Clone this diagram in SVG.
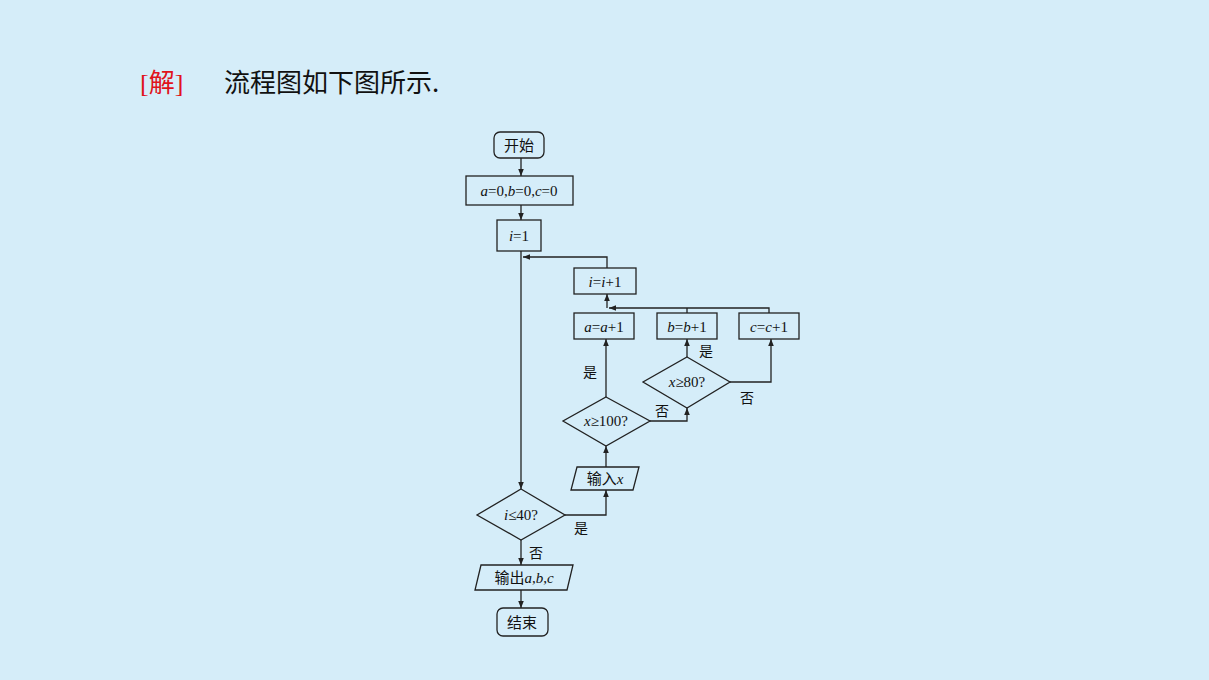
<svg xmlns="http://www.w3.org/2000/svg" width="1209" height="680" viewBox="0 0 1209 680">
<defs>
<marker id="ar" viewBox="0 0 10 10" refX="10" refY="5" markerWidth="7" markerHeight="7" orient="auto" markerUnits="userSpaceOnUse"><path d="M0,1 L10,5 L0,9 Z" fill="#222"/></marker>
<style>
.s{fill:none;stroke:#222;stroke-width:1.3}
.t{font-family:"Liberation Serif","Noto Sans CJK SC",serif;font-size:15px;fill:#111;text-anchor:middle}
.c{font-family:"Noto Sans CJK SC",serif;font-size:14px;fill:#111}
.e{stroke:#222;stroke-width:1.3;fill:none;marker-end:url(#ar)}
</style>
</defs>
<rect width="1209" height="680" fill="#d5edf9"/>
<text x="140" y="92" font-family="Liberation Serif,'Noto Sans CJK SC',serif" font-size="26" fill="#e0141c">[解]</text>
<text x="224" y="92" font-family="'Noto Sans CJK SC',serif" font-size="26" fill="#111">流程图如下图所示.</text>
<g id="start"><rect class="s" x="494" y="132" width="50" height="26" rx="6"/><text class="t" x="519" y="151">开始</text></g>
<g id="init"><rect class="s" x="466" y="176" width="107" height="29"/><text class="t" x="519" y="196"><tspan font-style="italic">a</tspan>=0,<tspan font-style="italic">b</tspan>=0,<tspan font-style="italic">c</tspan>=0</text></g>
<g id="i1"><rect class="s" x="497" y="220" width="44" height="31"/><text class="t" x="519" y="241"><tspan font-style="italic">i</tspan>=1</text></g>
<g id="inc"><rect class="s" x="574" y="268" width="62" height="26"/><text class="t" x="605" y="287"><tspan font-style="italic">i</tspan>=<tspan font-style="italic">i</tspan>+1</text></g>
<g id="aa"><rect class="s" x="574" y="313" width="60" height="26"/><text class="t" x="604" y="332"><tspan font-style="italic">a</tspan>=<tspan font-style="italic">a</tspan>+1</text></g>
<g id="bb"><rect class="s" x="657" y="313" width="60" height="26"/><text class="t" x="687" y="332"><tspan font-style="italic">b</tspan>=<tspan font-style="italic">b</tspan>+1</text></g>
<g id="cc"><rect class="s" x="739" y="313" width="60" height="26"/><text class="t" x="769" y="332"><tspan font-style="italic">c</tspan>=<tspan font-style="italic">c</tspan>+1</text></g>
<g id="d80"><polygon class="s" points="687,357 730,382 687,408 643,382"/><text class="t" x="687" y="387"><tspan font-style="italic">x</tspan>≥80?</text></g>
<g id="d100"><polygon class="s" points="606,397 650,421 606,446 563,421"/><text class="t" x="606" y="426"><tspan font-style="italic">x</tspan>≥100?</text></g>
<g id="inx"><polygon class="s" points="577,467 639,467 633,490 571,490"/><text class="t" x="605" y="484">输入<tspan font-style="italic">x</tspan></text></g>
<g id="d40"><polygon class="s" points="521,489 565,515 521,540 477,515"/><text class="t" x="521" y="520"><tspan font-style="italic">i</tspan>≤40?</text></g>
<g id="out"><polygon class="s" points="481,565 573,565 567,590 475,590"/><text class="t" x="524" y="583">输出<tspan font-style="italic">a</tspan>,<tspan font-style="italic">b</tspan>,<tspan font-style="italic">c</tspan></text></g>
<g id="end"><rect class="s" x="497" y="608" width="51" height="28" rx="6"/><text class="t" x="522" y="628">结束</text></g>
<g id="connectors">
<line class="e" x1="521" y1="158" x2="521" y2="176"/>
<line class="e" x1="521" y1="205" x2="521" y2="220"/>
<line class="e" x1="521" y1="251" x2="521" y2="489"/>
<polyline class="e" points="607,268 607,257 523,257"/>
<line class="e" x1="607" y1="308" x2="607" y2="294"/>
<polyline class="e" points="769,313 769,308 609,308"/>
<line class="s" x1="687" y1="313" x2="687" y2="308"/>
<line class="e" x1="606" y1="397" x2="606" y2="339"/>
<line class="e" x1="687" y1="357" x2="687" y2="339"/>
<polyline class="e" points="730,382 771,382 771,339"/>
<polyline class="e" points="650,421 687,421 687,408"/>
<line class="e" x1="606" y1="467" x2="606" y2="446"/>
<polyline class="e" points="565,515 606,515 606,490"/>
<line class="e" x1="521" y1="540" x2="521" y2="565"/>
<line class="e" x1="521" y1="590" x2="521" y2="608"/>
<text class="c" x="699" y="356">是</text>
<text class="c" x="740" y="403">否</text>
<text class="c" x="583" y="377">是</text>
<text class="c" x="655" y="416">否</text>
<text class="c" x="574" y="533">是</text>
<text class="c" x="529" y="558">否</text>
</g>
</svg>
